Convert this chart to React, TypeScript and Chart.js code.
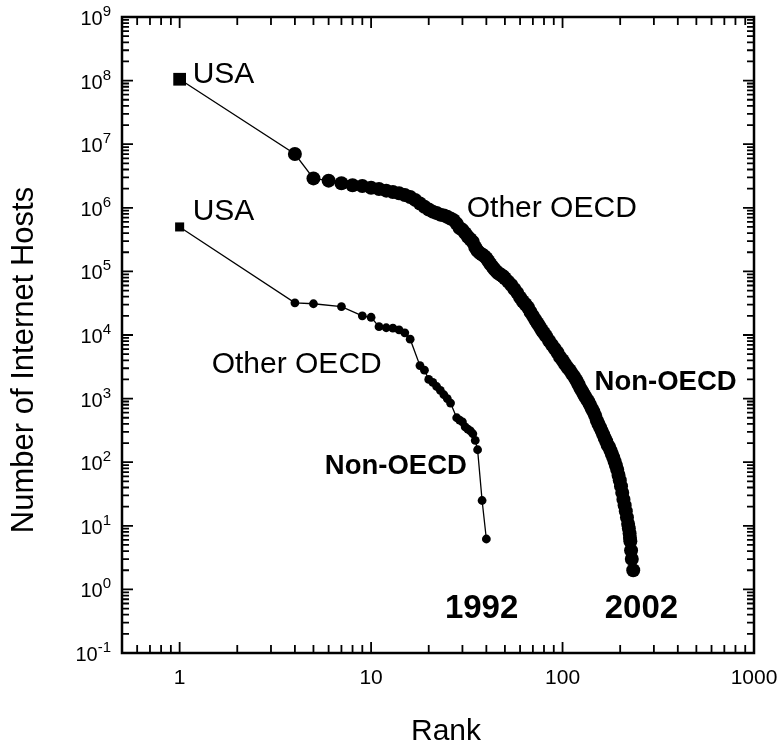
import React, { useEffect, useRef } from 'react';
import { Chart, registerables } from 'chart.js';

Chart.register(...registerables);

// ---- Data ----
const ranks1992 = [1, 4, 5, 7, 9, 10, 11, 12, 13, 14, 15, 16, 18, 19, 20, 21, 22, 23, 24, 25, 26, 28, 29, 30, 31, 32, 33, 34, 35, 36, 38, 40];
const hosts1992 = [5.0e5, 3.2e4, 3.1e4, 2.8e4, 2.0e4, 1.9e4, 1.35e4, 1.3e4, 1.28e4, 1.2e4, 1.08e4, 8.6e3, 3.3e3, 2.8e3, 2.0e3, 1.8e3, 1.55e3, 1.35e3, 1.15e3, 1.0e3, 850, 500, 460, 430, 360, 330, 310, 280, 220, 157, 25, 6.2];

const ranks2002 = [1, 4, 5, 6, 7, 8, 9, 10, 11, 12, 13, 14, 15, 16, 17, 18, 19, 20, 21, 22, 23, 24, 25, 26, 27, 28, 29, 30,
  31, 32, 33, 34, 35, 36, 37, 38, 39, 40, 41, 42, 43, 44, 45, 46, 47, 48, 49, 50, 52, 54, 56, 58, 60, 62, 64, 66, 68, 70,
  72, 74, 76, 78, 80, 82, 85, 88, 91, 94, 97, 100, 103, 106, 109, 112, 115, 118, 121, 124, 127, 130, 133, 136, 139, 142,
  145, 148, 151, 154, 157, 160, 163, 166, 169, 172, 175, 178, 181, 184, 187, 190, 193, 196, 199, 202, 205, 208, 211, 214,
  217, 220, 222, 224, 225, 226, 228, 230, 234];
const hosts2002 = [1.05e8, 7.0e6, 2.9e6, 2.67e6, 2.43e6, 2.26e6, 2.2e6, 2.07e6, 1.98e6, 1.86e6, 1.77e6, 1.69e6, 1.59e6, 1.48e6, 1.33e6, 1.17e6, 1.04e6, 9.4e5, 8.7e5, 8.3e5, 7.8e5, 7.6e5, 7.2e5, 6.8e5, 6.4e5, 5.6e5, 4.8e5, 4.5e5,
  4.0e5, 3.5e5, 3.2e5, 2.9e5, 2.4e5, 2.1e5, 1.94e5, 1.84e5, 1.74e5, 1.62e5, 1.45e5, 1.3e5, 1.19e5, 1.09e5, 1.01e5, 9.4e4, 9.1e4, 8.7e4, 8.3e4, 7.8e4, 6.9e4, 6.1e4, 5.3e4, 4.6e4, 3.9e4, 3.4e4, 3.05e4, 2.7e4, 2.3e4, 2.0e4,
  1.74e4, 1.53e4, 1.35e4, 1.19e4, 1.07e4, 9.6e3, 8.1e3, 7.0e3, 6.1e3, 5.3e3, 4.5e3, 4.0e3, 3.5e3, 3.1e3, 2.8e3, 2.46e3, 2.2e3, 1.94e3, 1.68e3, 1.45e3, 1.28e3, 1.13e3, 1.01e3, 910, 800, 700,
  620, 540, 455, 400, 353, 311, 274, 241, 213, 187, 173, 153, 135, 119, 103, 89, 76, 63, 52, 42, 33, 26, 21, 17,
  13.5, 10.7, 9.1, 7.6, 6.5, 5.7, 4.1, 3.0, 2.0];

const xTickLabels = ['1', '10', '100', '1000'];
const xTickValues = [1, 10, 100, 1000];
const yTickExponents = ['-1', '0', '1', '2', '3', '4', '5', '6', '7', '8', '9'];

const xTitle = 'Rank';
const yTitle = 'Number of Internet Hosts';

// annotation labels (anchored at data coordinates: left edge / baseline)
const noteTexts = ['USA', 'USA', 'Other OECD', 'Other OECD', 'Non-OECD', 'Non-OECD', '1992', '2002'];
const noteX = [1.17, 1.17, 31.6, 1.47, 5.73, 147, 24.3, 166];
const noteY = [9.2e7, 6.4e5, 7.2e5, 2.5e3, 66, 1.35e3, 0.36, 0.36];
const noteBold = [false, false, false, false, true, true, true, true];
const noteSize = [30, 30, 30, 30, 27.5, 27.5, 33, 33];

const FONT = '"Liberation Sans", Arial, Helvetica, sans-serif';

const framePlugin = {
  id: 'frameTicks',
  afterDraw(chart: any) {
    const ctx = chart.ctx as CanvasRenderingContext2D;
    const { left, right, top, bottom } = chart.chartArea;
    const xs = chart.scales.x;
    const ys = chart.scales.y;
    ctx.save();
    ctx.strokeStyle = '#000';
    ctx.fillStyle = '#000';
    // frame
    ctx.lineWidth = 2.5;
    ctx.strokeRect(left, top, right - left, bottom - top);
    // ticks
    ctx.lineWidth = 1.8;
    ctx.beginPath();
    for (let d = -1; d <= 3; d++) {
      for (let k = 1; k <= 9; k++) {
        const v = k * Math.pow(10, d);
        if (v < 0.5 - 1e-9 || v > 1000 + 1e-9) continue;
        const px = xs.getPixelForValue(v);
        const len = k === 1 ? 11 : 8;
        ctx.moveTo(px, bottom); ctx.lineTo(px, bottom - len);
        ctx.moveTo(px, top); ctx.lineTo(px, top + len);
      }
    }
    for (let d = -1; d <= 9; d++) {
      for (let k = 1; k <= 9; k++) {
        const v = k * Math.pow(10, d);
        if (v < 0.1 - 1e-12 || v > 1e9 * (1 + 1e-9)) continue;
        const py = ys.getPixelForValue(v);
        const len = k === 1 ? 11 : 7;
        ctx.moveTo(left, py); ctx.lineTo(left + len, py);
        ctx.moveTo(right, py); ctx.lineTo(right - len, py);
      }
    }
    ctx.stroke();

    // x tick labels
    ctx.font = `21px ${FONT}`;
    ctx.textAlign = 'center';
    ctx.textBaseline = 'alphabetic';
    xTickValues.forEach((v, i) => {
      ctx.fillText(xTickLabels[i], xs.getPixelForValue(v), bottom + 31);
    });

    // y tick labels 10^n
    yTickExponents.forEach((e) => {
      const py = ys.getPixelForValue(Math.pow(10, Number(e)));
      ctx.font = `15px ${FONT}`;
      const ew = ctx.measureText(e).width;
      ctx.font = `20px ${FONT}`;
      const bw = ctx.measureText('10').width;
      const rightEdge = left - 11;
      ctx.textAlign = 'left';
      ctx.fillText('10', rightEdge - ew - bw, py + 8);
      ctx.font = `15px ${FONT}`;
      ctx.fillText(e, rightEdge - ew, py - 1);
    });

    // axis titles
    ctx.font = `30px ${FONT}`;
    ctx.textAlign = 'center';
    ctx.fillText(xTitle, (left + right) / 2 + 8, bottom + 87);
    ctx.save();
    ctx.font = `31px ${FONT}`;
    ctx.translate(33, 360);
    ctx.rotate(-Math.PI / 2);
    ctx.fillText(yTitle, 0, 0);
    ctx.restore();

    // annotations
    ctx.textAlign = 'left';
    noteTexts.forEach((t, i) => {
      ctx.font = `${noteBold[i] ? 'bold ' : ''}${noteSize[i]}px ${FONT}`;
      ctx.fillText(t, xs.getPixelForValue(noteX[i]), ys.getPixelForValue(noteY[i]));
    });
    ctx.restore();
  },
};

export default function App() {
  const ref = useRef<HTMLCanvasElement>(null);
  useEffect(() => {
    const chart = new Chart(ref.current as HTMLCanvasElement, {
      type: 'scatter',
      data: {
        datasets: [
          {
            label: '2002',
            data: ranks2002.map((r, i) => ({ x: r, y: hosts2002[i] })),
            showLine: true,
            borderColor: '#000',
            borderWidth: 1.3,
            pointBackgroundColor: '#000',
            pointBorderColor: '#000',
            pointBorderWidth: 0,
            pointRadius: ranks2002.map((_, i) => (i === 0 ? 9 : 7)),
            pointStyle: ranks2002.map((_, i) => (i === 0 ? 'rect' : 'circle')),
          },
          {
            label: '1992',
            data: ranks1992.map((r, i) => ({ x: r, y: hosts1992[i] })),
            showLine: true,
            borderColor: '#000',
            borderWidth: 1.3,
            pointBackgroundColor: '#000',
            pointBorderColor: '#000',
            pointBorderWidth: 0,
            pointRadius: ranks1992.map((_, i) => (i === 0 ? 6.4 : 4.4)),
            pointStyle: ranks1992.map((_, i) => (i === 0 ? 'rect' : 'circle')),
          },
        ],
      },
      options: {
        responsive: false,
        animation: false,
        devicePixelRatio: 1,
        events: [],
        layout: { padding: { left: 122, top: 17, right: 27, bottom: 91 } },
        plugins: { legend: { display: false }, tooltip: { enabled: false } },
        scales: {
          x: { type: 'logarithmic', min: 0.5, max: 1000, display: false },
          y: { type: 'logarithmic', min: 0.1, max: 1e9, display: false },
        },
      },
      plugins: [framePlugin],
    } as any);
    return () => chart.destroy();
  }, []);
  return (
    <div style={{ position: 'absolute', left: 0, top: 0, width: 781, height: 744, background: '#fff' }}>
      <canvas ref={ref} width={781} height={744} style={{ display: 'block' }} />
    </div>
  );
}
